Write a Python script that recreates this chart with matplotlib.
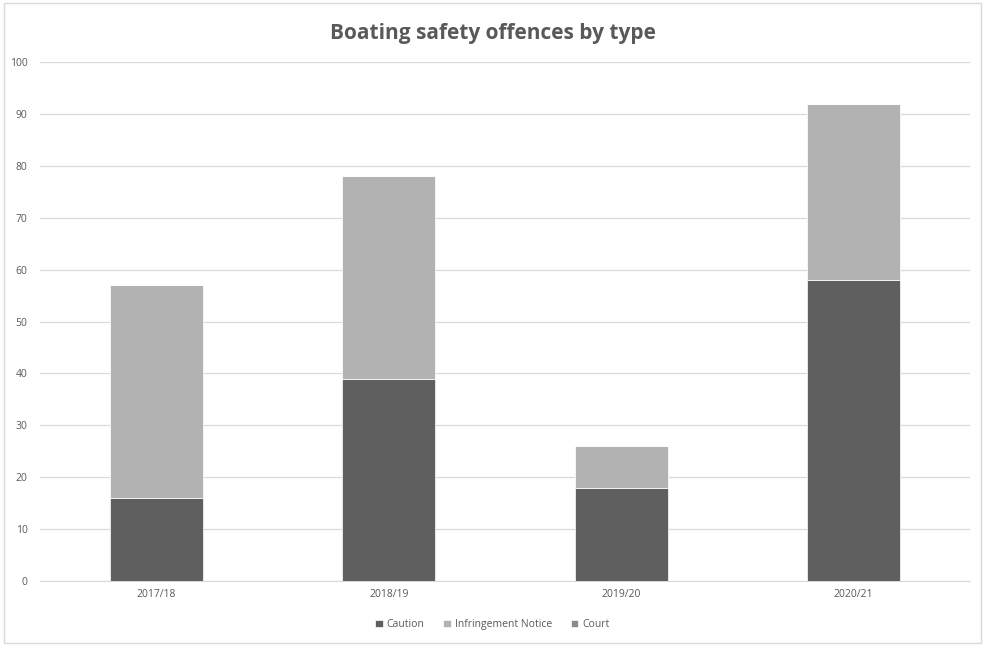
import numpy as np
import matplotlib.pyplot as plt
from matplotlib.patches import Rectangle

# Data
years = ['2017/18', '2018/19', '2019/20', '2020/21']
caution = [16, 39, 18, 58]
infringement = [41, 39, 8, 34]
court = [0, 0, 0, 0]

plt.rcParams['font.family'] = ['Open Sans', 'DejaVu Sans']

fig = plt.figure(figsize=(9.85, 6.46), dpi=100)
ax = fig.add_axes([0.0406, 0.1006, 0.9441, 0.8034])

x = np.arange(len(years))
w = 0.4
ax.bar(x, caution, w, color='#5f5f5f', edgecolor='white', linewidth=0.5, label='Caution', zorder=3)
ax.bar(x, infringement, w, bottom=caution, color='#b2b2b2', edgecolor='white', linewidth=0.5,
       label='Infringement Notice', zorder=3)
bottom2 = [c + i for c, i in zip(caution, infringement)]
ax.bar(x, court, w, bottom=bottom2, color='#8a8a8a', edgecolor='white', linewidth=0.5, label='Court', zorder=3)

ax.set_xlim(-0.5, 3.5)
ax.set_ylim(0, 100)
ax.set_yticks(range(0, 101, 10))
ax.set_xticks(x)
ax.set_xticklabels(years)
ax.grid(axis='y', color='#d9d9d9', linewidth=0.9, zorder=0)
for s in ['top', 'right', 'left']:
    ax.spines[s].set_visible(False)
ax.spines['bottom'].set_color('#d9d9d9')
ax.tick_params(axis='both', length=0, labelsize=7.5, colors='#595959')
ax.tick_params(axis='y', pad=9)
ax.tick_params(axis='x', pad=6)

fig.text(0.5, 0.948, 'Boating safety offences by type', ha='center', va='center',
         fontsize=15, fontweight='bold', color='#595959')

leg = fig.legend(loc='center', bbox_to_anchor=(0.5, 0.033), ncol=3, frameon=False,
                 fontsize=7.5, handlelength=0.7, handleheight=0.7, handletextpad=0.4,
                 columnspacing=1.8)
for t in leg.get_texts():
    t.set_color('#595959')

fig.patches.append(Rectangle((0.004, 0.004), 0.992, 0.992, transform=fig.transFigure,
                             fill=False, edgecolor='#d9d9d9', linewidth=1))

fig.savefig('out.png', dpi=100)
